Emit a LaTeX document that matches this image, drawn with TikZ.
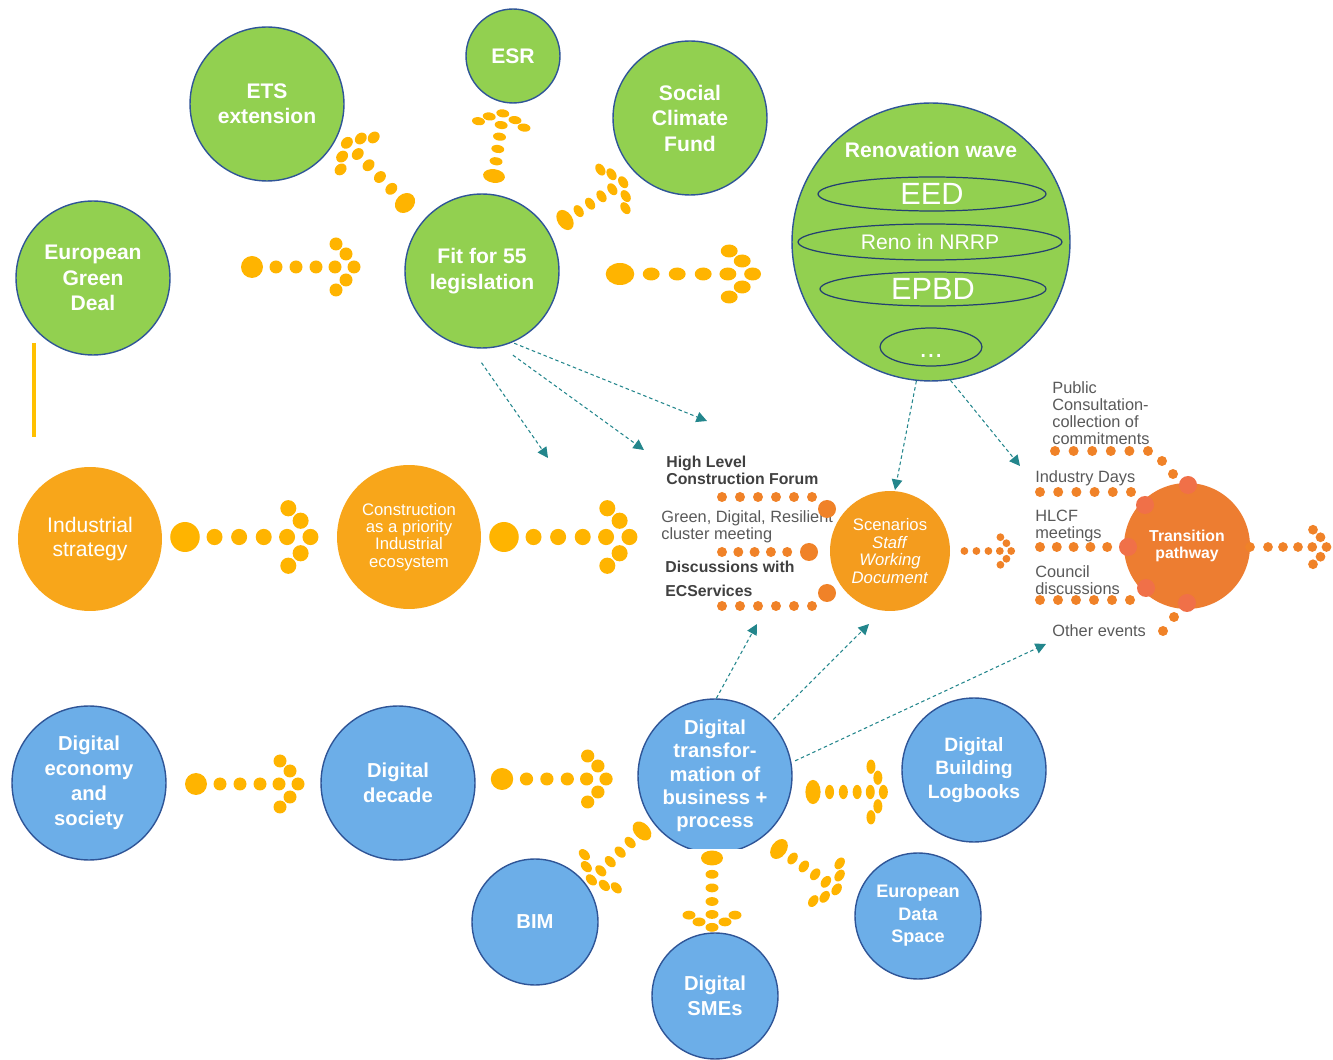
\documentclass[tikz,border=0pt]{standalone}
\usepackage{fontspec}
\setmainfont{Liberation Sans}
\usepackage{tikz}
\usetikzlibrary{arrows.meta,shapes.geometric}
\definecolor{ecgreen}{RGB}{146,208,80}
\definecolor{ecblue}{RGB}{108,174,232}
\definecolor{rim}{RGB}{47,85,151}
\definecolor{ecamber}{RGB}{248,166,26}
\definecolor{scenorange}{RGB}{244,156,30}
\definecolor{ecorange}{RGB}{237,125,49}
\definecolor{dotyellow}{RGB}{255,180,0}
\definecolor{evdot}{RGB}{240,130,40}
\definecolor{evbig}{RGB}{240,112,72}
\definecolor{linkteal}{RGB}{35,134,140}
\definecolor{labelgray}{RGB}{89,89,89}
\definecolor{labeldark}{RGB}{64,64,64}
\definecolor{baryellow}{RGB}{255,192,0}
\tikzstyle{greenball}=[circle,fill=ecgreen,draw=rim,line width=0.8pt,text=white,align=center,inner sep=0pt,font=\fontsize{12}{14.5}\selectfont\bfseries]
\tikzstyle{blueball}=[greenball,fill=ecblue,font=\fontsize{11.5}{14.2}\selectfont\bfseries]
\tikzstyle{amberball}=[circle,fill=ecamber,text=white,align=center,inner sep=0pt]
\tikzstyle{innerring}=[ellipse,draw=rim!75!black,line width=0.7pt,text=white,inner sep=0pt]
\tikzstyle{evtext}=[anchor=west,align=left,text=labelgray,inner sep=0pt,font=\fontsize{9.3}{9.7}\selectfont]
\tikzstyle{evbold}=[evtext,text=labeldark,font=\fontsize{9}{9.7}\selectfont\bfseries]
\tikzstyle{link}=[draw=linkteal,dash pattern=on 2pt off 1.6pt,line width=0.6pt,-{Triangle[length=6pt,width=6pt]}]
% dotted arrow: [colour] start, angle, xscale, yscale, first dot
\newcommand{\dotarrow}[6][dotyellow]{%
  \begin{scope}[shift={#2},rotate=#3,xscale=#4,yscale=#5]
    \fill[#1] (0,0) circle (#6);
    \foreach \x in {24,44,64,83,102}
      \fill[#1] (\x,0) circle (6.5);
    \foreach \x/\y in {84/-23,94/-13,94/13,84/23}
      \fill[#1] (\x,\y) circle (6.5);
  \end{scope}}

\begin{document}
\begin{tikzpicture}[x=0.02cm,y=-0.02cm]
    \useasboundingbox (0,0) rectangle (1333,1060);
    % First we draw the green policy circles
    \foreach \pos/\name/\txt in {{(267,104)/ets/ETS\\extension}, {(690,118)/scf/Social\\Climate\\Fund}, {(93,278)/egd/European\\Green\\Deal}, {(482,271)/fit/Fit for 55\\legislation}}
        \node[greenball,minimum size=3.08cm] (\name) at \pos {\txt};
    \node[greenball,minimum size=1.88cm] (esr) at (513,56) {ESR};
    \node[greenball,minimum size=5.56cm] (reno) at (931,242) {};
    \node[text=white,font=\fontsize{12}{14}\selectfont\bfseries] (renotitle) at (931,150) {Renovation wave};
    \node[innerring,minimum width=4.56cm,minimum height=0.68cm,font=\fontsize{17.5}{18}\selectfont] (eed) at (932,194) {EED};
    \node[innerring,minimum width=5.28cm,minimum height=0.72cm,font=\fontsize{12}{13}\selectfont] (nrrp) at (930,242) {Reno in NRRP};
    \node[innerring,minimum width=4.52cm,minimum height=0.68cm,font=\fontsize{17.5}{18}\selectfont] (epbd) at (933,289) {EPBD};
    \node[innerring,minimum width=2.04cm,minimum height=0.76cm,font=\fontsize{16}{16}\selectfont] (more) at (931,347) {\vphantom{Eb}...};
    % Industrial line
    \node[amberball,minimum size=2.88cm,font=\fontsize{12}{13.6}\selectfont] (ind) at (90,539) {Industrial\\strategy};
    \node[amberball,minimum size=2.88cm,font=\fontsize{9.5}{9.8}\selectfont] (cons) at (409,537) {Construction\\as a priority\\Industrial\\ecosystem};
    \node[amberball,fill=scenorange,minimum size=2.4cm,font=\fontsize{9.5}{9.9}\selectfont] (scen) at (890,551) {Scenarios\\\textit{Staff}\\\textit{Working}\\\textit{Document}};
    \node[amberball,fill=ecorange,minimum size=2.52cm,font=\fontsize{9}{9.6}\selectfont\bfseries] (trans) at (1187,546) {Transition\\pathway};
    % Digital line
    \node[blueball,minimum size=3.08cm] (des) at (89,783) {Digital\\economy\\and\\society};
    \node[blueball,minimum size=3.08cm] (dd) at (398,783) {Digital\\decade};
    \begin{scope}
        \clip (600,680) rectangle (830,848);
        \node[blueball,minimum size=3.08cm,font=\fontsize{11.5}{13.3}\selectfont\bfseries] (dt) at (715,776) {Digital\\transfor-\\mation of\\business +\\process};
    \end{scope}
    \node[blueball,minimum size=2.88cm,font=\fontsize{11}{13.3}\selectfont\bfseries] (dbl) at (974,770) {Digital\\Building\\Logbooks};
    \node[blueball,minimum size=2.52cm] (bim) at (535,922) {BIM};
    \node[blueball,minimum size=2.52cm,font=\fontsize{10.3}{12.8}\selectfont\bfseries] (eds) at (918,916) {European\\Data\\Space};
    \node[blueball,minimum size=2.52cm] (sme) at (715,996) {Digital\\SMEs};
    % Dotted arrows
    \dotarrow{(252,267)}{0}{1}{1}{11}
    \dotarrow{(620,274)}{0}{1.3}{1}{11}
    \dotarrow{(185,537)}{0}{1.23}{1.25}{12}
    \dotarrow{(504,537)}{0}{1.23}{1.25}{12}
    \dotarrow{(196,784)}{0}{1}{1}{11}
    \dotarrow{(502,779)}{0}{1.02}{1}{11}
    \dotarrow{(813,792)}{0}{0.69}{1.1}{11}
    \dotarrow{(405,203)}{134}{0.82}{1}{11}
    \dotarrow{(494,176)}{82}{0.62}{1}{11}
    \dotarrow{(565,220)}{33}{0.68}{1}{11}
    \dotarrow{(642,831)}{224}{0.69}{1}{11}
    \dotarrow{(712,858)}{270}{0.68}{1}{11}
    \dotarrow{(779,849)}{-35}{0.69}{1}{11}
    \dotarrow[evdot]{(950,551)}{0}{0.6}{0.6}{0.1}
    \dotarrow[evdot]{(1250,547)}{0}{0.75}{0.75}{6.5}
    % Events feeding the scenarios
    \node[evbold] (hlcf) at (666,470) {High Level\\Construction Forum};
    \node[evtext] (cluster) at (661,527) {Green, Digital, Resilient\\cluster meeting};
    \node[evbold] (ecs) at (665,579) {Discussions with\\[4pt]ECServices};
    \foreach \y/\n/\d in {497/6/18, 552/5/16.3, 606/6/18}
        \foreach \i in {1,...,\n}
            \fill[evdot] ({722+\d*(\i-1)},\y) circle (5);
    \foreach \pos in {(827,509), (809,552), (827,593)}
        \fill[evdot] \pos circle (9);
    % Events feeding the transition pathway
    \node[evtext] (pubcons) at (1052,413) {Public\\Consultation-\\collection of\\commitments};
    \node[evtext] (inddays) at (1035,478) {Industry Days};
    \node[evtext] (hlcfmeet) at (1035,526) {HLCF\\meetings};
    \node[evtext] (council) at (1035,580) {Council\\discussions};
    \node[evtext] (other) at (1052,631) {Other events};
    \foreach \x/\y/\n/\d in {1055/451/6/18.6, 1040/492/6/18.2, 1040/547/5/16.8, 1040/600/6/18}
        \foreach \i in {1,...,\n}
            \fill[evdot] ({\x+\d*(\i-1)},\y) circle (5);
    \foreach \pos in {(1162,461), (1173,474), (1174,617), (1163,631)}
        \fill[evdot] \pos circle (5);
    \foreach \pos in {(1188,485), (1145,505), (1128,547), (1146,588), (1187,603)}
        \fill[evbig] \pos circle (9);
    % Dashed links
    \coordinate (e1) at (548,458);
    \coordinate (e2) at (644,450);
    \coordinate (e3) at (707,421);
    \coordinate (e4) at (895,490);
    \coordinate (e5) at (1020,466);
    \coordinate (f1) at (757,624);
    \coordinate (f2) at (869,624);
    \coordinate (f3) at (1046,644);
    \path[link,shorten <=0.36cm] (fit.262) -- (e1);
    \path[link,shorten <=0.3cm] (fit.284) -- (e2);
    \path[link,shorten <=0.04cm] (fit.293) -- (e3);
    \path[link] (reno.264) -- (e4);
    \path[link] (reno.278) -- (e5);
    \path[link] (dt.89) -- (f1);
    \path[link,shorten <=0.07cm] (dt.44) -- (f2);
    \path[link,shorten <=0.08cm] (dt.10) -- (f3);
    % yellow bar on the left
    \coordinate (barTop) at (34,343);
    \coordinate (barBot) at (34,437);
    \draw[baryellow,line width=1.8pt] (barTop) -- (barBot);
\end{tikzpicture}
\end{document}
